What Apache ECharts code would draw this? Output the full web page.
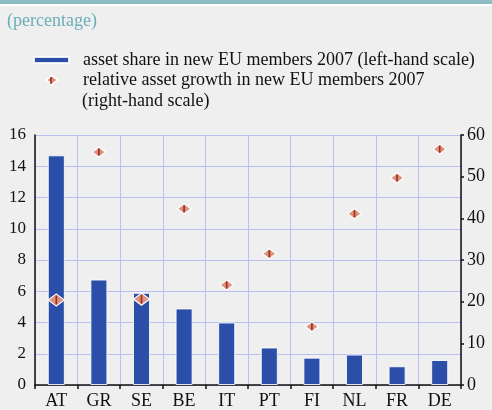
<!DOCTYPE html>
<html><head><meta charset="utf-8">
<script src="https://cdn.jsdelivr.net/npm/echarts@6/dist/echarts.min.js"></script>
<style>html,body{margin:0;padding:0;background:#efefef;}#c{width:492px;height:410px;}</style>
</head><body><div id="c"></div>
<script>
const categories = ['AT','GR','SE','BE','IT','PT','FI','NL','FR','DE'];
const assetShare = [14.7, 6.75, 5.9, 4.9, 4.0, 2.4, 1.75, 1.95, 1.2, 1.6];
const assetGrowth = [20.4, 55.9, 20.6, 42.3, 24.0, 31.5, 14.0, 41.1, 49.7, 56.6];
const leftTicks = {min: 0, max: 16, interval: 2};
const rightTicks = {min: 0, max: 60, interval: 10};
const barName = 'asset share in new EU members 2007 (left-hand scale)';
const dotName = 'relative asset growth in new EU members 2007';
const dotNameLine2 = '(right-hand scale)';

const font = 'Liberation Serif';
const chart = echarts.init(document.getElementById('c'), null, {renderer: 'canvas'});
const bigMarkers = new Set(['AT','SE']);
chart.setOption({
  backgroundColor: '#efefef',
  animation: false,
  textStyle: {fontFamily: font},
  graphic: [
    {type: 'rect', shape: {x: 0, y: 0, width: 492, height: 4}, style: {fill: '#8fbcc4'}},
    {type: 'rect', shape: {x: 0, y: 4, width: 492, height: 2}, style: {fill: '#ffffff'}},
    {type: 'text', x: 7, y: 21, style: {text: '(percentage)', font: '18px ' + font, fill: '#6aaeb8', verticalAlign: 'middle'}},
    {type: 'text', x: 82, y: 101, style: {text: dotNameLine2, font: '18px ' + font, fill: '#111', verticalAlign: 'middle'}},
    {type: 'rect', shape: {x: 50.2, y: 77, width: 1.6, height: 7}, style: {fill: '#a8281e'}, z: 200}
  ],
  legend: [
    {data: [barName], left: 33, top: 51, padding: 0, orient: 'vertical', itemWidth: 35, itemHeight: 6,
     icon: 'rect', selectedMode: false,
     textStyle: {fontFamily: font, fontSize: 18, color: '#111', padding: [0,0,0,9]}},
    {data: [dotName], left: 45, top: 71, padding: 0, orient: 'vertical', itemWidth: 12, itemHeight: 9,
     icon: 'diamond', selectedMode: false,
     textStyle: {fontFamily: font, fontSize: 18, color: '#111', padding: [0,0,0,20]}}
  ],
  grid: {left: 35, right: 31, top: 135, bottom: 24.5, containLabel: false},
  xAxis: {
    type: 'category', data: categories, boundaryGap: true,
    axisLine: {lineStyle: {color: '#111', width: 1.5}},
    axisTick: {show: true, length: 4, lineStyle: {color: '#111', width: 1.5}},
    axisLabel: {fontFamily: font, fontSize: 18, color: '#111', margin: 7},
    splitLine: {show: true, interval: 0, lineStyle: {color: '#b9bfee', width: 1}}
  },
  yAxis: [
    {type: 'value', min: leftTicks.min, max: leftTicks.max, interval: leftTicks.interval,
     axisLine: {show: true, lineStyle: {color: '#111', width: 1.5}},
     axisTick: {show: false},
     axisLabel: {fontFamily: font, fontSize: 17, color: '#111', margin: 9},
     splitLine: {show: true, lineStyle: {color: '#b9bfee', width: 1}}},
    {type: 'value', min: rightTicks.min, max: rightTicks.max, interval: rightTicks.interval,
     position: 'right',
     axisLine: {show: true, lineStyle: {color: '#111', width: 1.5}},
     axisTick: {show: true, length: 3, lineStyle: {color: '#111', width: 1.5}},
     axisLabel: {fontFamily: font, fontSize: 18, color: '#111', margin: 6},
     splitLine: {show: false}}
  ],
  series: [
    {name: barName, type: 'bar', yAxisIndex: 0, data: assetShare, barWidth: '40%',
     itemStyle: {color: '#2b4ea8', borderColor: 'rgba(255,255,255,0.85)', borderWidth: 1}},
    {name: dotName, type: 'scatter', yAxisIndex: 1, data: assetGrowth, symbol: 'diamond',
     symbolSize: (v, p) => bigMarkers.has(categories[p.dataIndex]) ? [16, 12] : [13, 10],
     itemStyle: {color: '#d8937e', borderColor: '#ffffff', borderWidth: 1.2, opacity: 1}},
    {name: 'dotline', type: 'scatter', yAxisIndex: 1, data: assetGrowth, symbol: 'rect',
     symbolSize: (v, p) => bigMarkers.has(categories[p.dataIndex]) ? [1.6, 9] : [1.6, 7],
     silent: true, itemStyle: {color: '#a8281e', opacity: 1}}
  ]
});
</script></body></html>
